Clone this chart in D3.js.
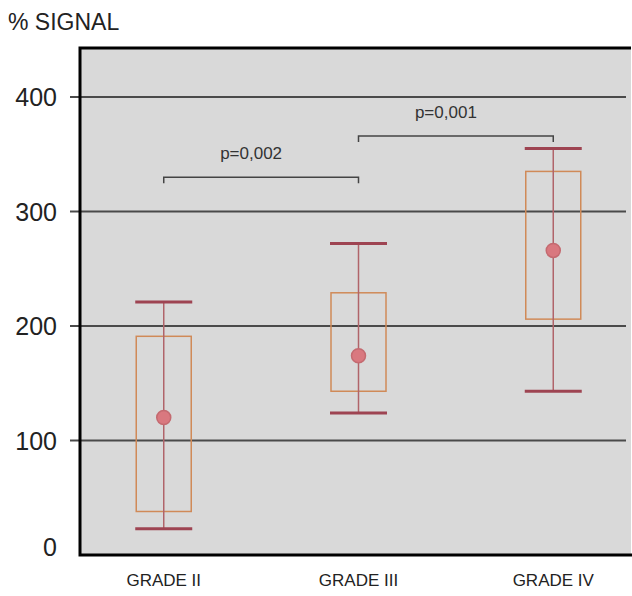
<!DOCTYPE html>
<html>
<head>
<meta charset="utf-8">
<script src="https://cdn.jsdelivr.net/npm/d3@7"></script>
<style>
  body { margin: 0; background: #fff; }
  text { font-family: "Liberation Sans", Arial, sans-serif; fill: #222; }
</style>
</head>
<body>
<div id="chart"></div>
<script>
var grades = ['GRADE II', 'GRADE III', 'GRADE IV'],
    capHigh = [221, 272, 355],
    boxHigh = [191, 229, 335],
    means   = [120, 174, 266],
    boxLow  = [38, 143, 206],
    capLow  = [23, 124, 143],
    yTicks  = [0, 100, 200, 300, 400],
    pairs   = [
      { from: 'GRADE II', to: 'GRADE III', y: 330, label: 'p=0,002' },
      { from: 'GRADE III', to: 'GRADE IV', y: 366, label: 'p=0,001' }
    ];

var width = 632, height = 596,
    plotLeft = 80, plotRight = 631, plotTop = 48, plotBottom = 555;

var svg = d3.select('#chart').append('svg')
    .attr('width', width)
    .attr('height', height);

var x = d3.scalePoint().domain(grades).range([plotLeft, 637]).padding(0.43),
    y = d3.scaleLinear().domain([0, 400]).range([plotBottom, 97]);

// plot background
svg.append('rect')
   .attr('x', plotLeft).attr('y', plotTop)
   .attr('width', plotRight - plotLeft).attr('height', plotBottom - plotTop)
   .attr('fill', '#d9d9d9');

// gridlines + ticks
svg.selectAll('line.grid')
   .data(yTicks.filter(function (d) { return d > 0; }))
   .enter().append('line')
   .attr('class', 'grid')
   .attr('x1', 70).attr('x2', 626)
   .attr('y1', function (d) { return y(d); })
   .attr('y2', function (d) { return y(d); })
   .attr('stroke', '#4a4a4a')
   .attr('stroke-width', 2);

svg.selectAll('text.ytick')
   .data(yTicks)
   .enter().append('text')
   .attr('class', 'ytick')
   .attr('x', 57)
   .attr('y', function (d) { return d === 0 ? y(d) - 8 : y(d); })
   .attr('dy', '0.36em')
   .attr('text-anchor', 'end')
   .style('font-size', '25px')
   .text(function (d) { return d; });

// frame: top, left, bottom
svg.append('path')
   .attr('d', 'M' + plotRight + ',' + plotTop + 'H' + plotLeft + 'V' + plotBottom + 'H' + width)
   .attr('fill', 'none')
   .attr('stroke', '#000')
   .attr('stroke-width', 3);

svg.append('text')
   .attr('x', 8).attr('y', 30)
   .style('font-size', '23px')
   .text('% SIGNAL');

// x labels
svg.selectAll('text.xlab')
   .data(grades)
   .enter().append('text')
   .attr('class', 'xlab')
   .attr('x', function (d) { return x(d); })
   .attr('y', 586)
   .attr('text-anchor', 'middle')
   .style('font-size', '17px')
   .text(function (d) { return d; });

// boxes with whiskers
var group = svg.selectAll('g.grade')
   .data(grades)
   .enter().append('g')
   .attr('class', 'grade');

var boxW = 55, capW = 57;

group.append('rect')
     .attr('x', function (d) { return x(d) - boxW / 2; })
     .attr('y', function (d, i) { return y(boxHigh[i]); })
     .attr('width', boxW)
     .attr('height', function (d, i) { return y(boxLow[i]) - y(boxHigh[i]); })
     .attr('fill', 'none')
     .attr('stroke', '#d08a58')
     .attr('stroke-width', 1.5);

group.append('line')
     .attr('x1', function (d) { return x(d); })
     .attr('x2', function (d) { return x(d); })
     .attr('y1', function (d, i) { return y(capHigh[i]); })
     .attr('y2', function (d, i) { return y(capLow[i]); })
     .attr('stroke', '#b0646a')
     .attr('stroke-width', 1.5);

[capHigh, capLow].forEach(function (vals) {
  group.append('line')
       .attr('x1', function (d) { return x(d) - capW / 2; })
       .attr('x2', function (d) { return x(d) + capW / 2; })
       .attr('y1', function (d, i) { return y(vals[i]); })
       .attr('y2', function (d, i) { return y(vals[i]); })
       .attr('stroke', '#9e4452')
       .attr('stroke-width', 3);
});

group.append('circle')
     .attr('cx', function (d) { return x(d); })
     .attr('cy', function (d, i) { return y(means[i]); })
     .attr('r', 7)
     .attr('fill', '#d9787f')
     .attr('stroke', '#c46a70')
     .attr('stroke-width', 1.5);

// significance brackets
var bracket = svg.selectAll('g.pair')
   .data(pairs)
   .enter().append('g')
   .attr('class', 'pair');

bracket.append('path')
       .attr('d', function (p) {
         var x1 = x(p.from), x2 = x(p.to), yy = y(p.y);
         return 'M' + x1 + ',' + (yy + 6) + 'V' + yy + 'H' + x2 + 'V' + (yy + 6);
       })
       .attr('fill', 'none')
       .attr('stroke', '#444')
       .attr('stroke-width', 1.5);

bracket.append('text')
       .attr('x', function (p) { return (x(p.from) + x(p.to)) / 2 - 10; })
       .attr('y', function (p) { return y(p.y) - 18; })
       .attr('text-anchor', 'middle')
       .style('font-size', '17px')
       .style('fill', '#333')
       .text(function (p) { return p.label; });
</script>
</body>
</html>
